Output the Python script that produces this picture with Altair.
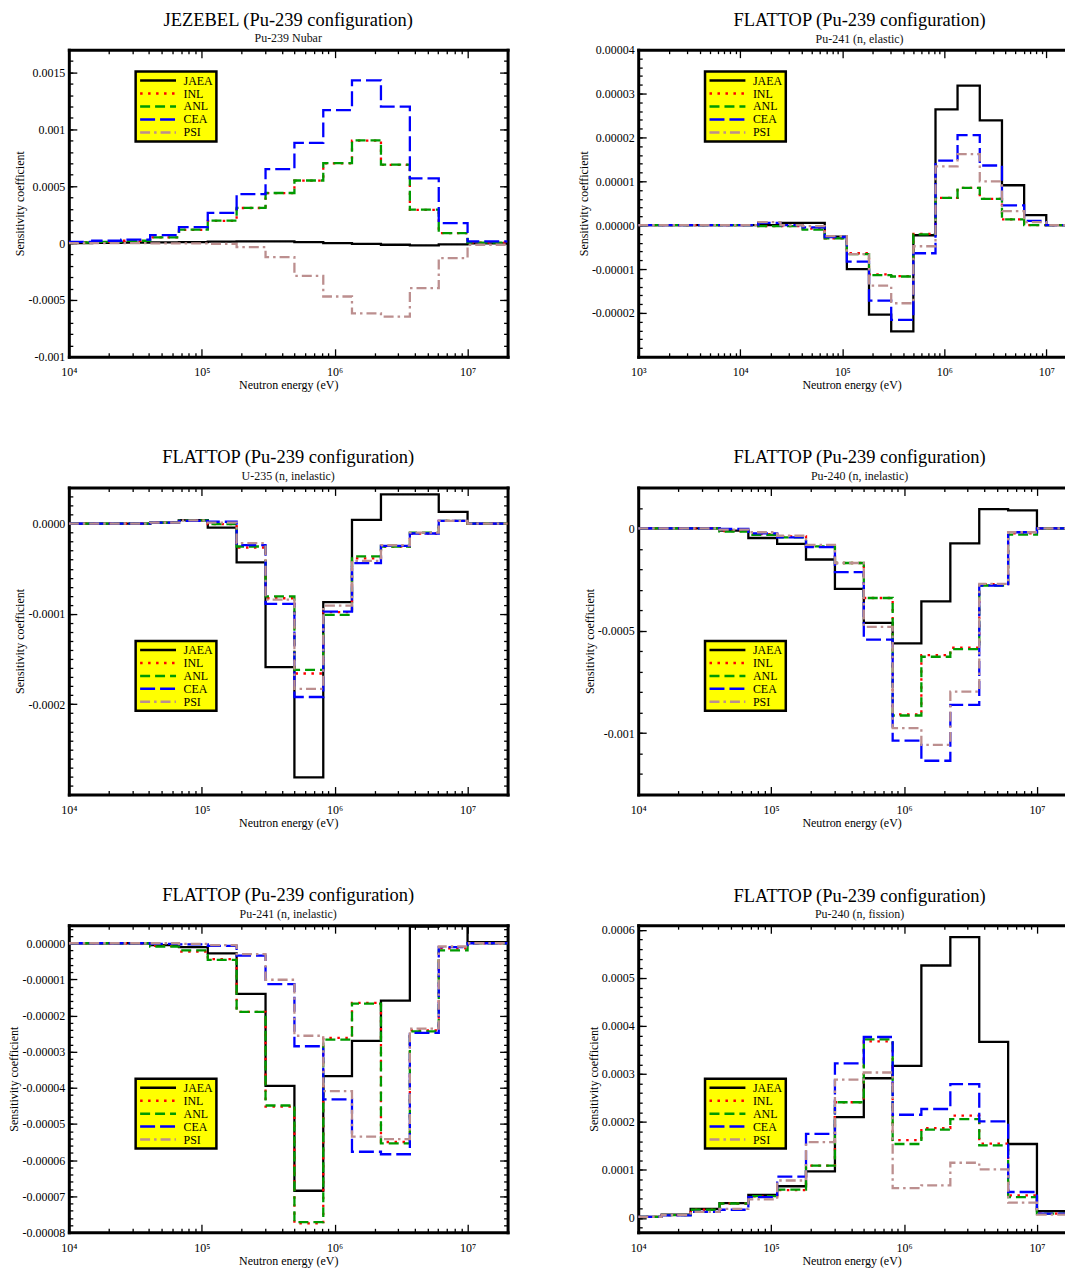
import math
import altair as alt
import pandas as pd

FONT = "Liberation Serif"
SERIES = ["JAEA", "INL", "ANL", "CEA", "PSI"]
COLORS = ["#000000", "#ff0000", "#009a00", "#0000ff", "#bc8f8f"]
DASHES = [[1, 0], [2.5, 5.5], [10, 5], [15, 5], [10, 4, 2.5, 4]]

# energy group boundaries (eV)
EDGES = [1.0e4, 1.50e4, 2.48e4, 4.09e4, 6.74e4, 1.11e5, 1.83e5, 3.02e5, 4.98e5,
         8.21e5, 1.35e6, 2.23e6, 3.68e6, 6.07e6, 1.0e7, 2.0e7]
EDGES_LOW = [1.0e3] + EDGES[1:]

# ---- Panel 1: JEZEBEL, Pu-239 Nubar
P1_JAEA = [0.0, 0.000002, 0.000004, 0.000006, 0.000009, 0.000012, 0.000015, 0.000015, 0.000008, 0.0, -0.000008, -0.000015, -0.00002, -0.000012, -0.000003]
P1_INL = [0.000005, 0.00001, 0.00002, 0.00005, 0.000116, 0.000195, 0.000308, 0.000438, 0.000548, 0.0007, 0.0009, 0.000688, 0.000292, 0.000087, 0.000003]
P1_ANL = [0.000005, 0.00001, 0.00002, 0.00005, 0.000118, 0.000197, 0.00031, 0.00044, 0.00055, 0.000703, 0.000903, 0.00069, 0.000294, 0.000088, 0.000003]
P1_CEA = [0.00001, 0.00002, 0.00003, 0.00007, 0.00014, 0.000265, 0.00043, 0.00065, 0.00088, 0.001168, 0.00143, 0.0012, 0.000568, 0.000176, 0.000015]
P1_PSI = [0.0, -0.000001, -0.000001, -0.000002, -0.000003, -0.000008, -0.000035, -0.000124, -0.000288, -0.00047, -0.000618, -0.000647, -0.000397, -0.000132, -0.000015]

# ---- Panel 2: FLATTOP, Pu-241 (n, elastic)
P2_JAEA = [0.0, 0.0, 0.0000005, 0.0000005, -0.0000026, -0.00001, -0.0000204, -0.0000242, -0.0000023, 0.0000264, 0.0000318, 0.0000239, 0.0000091, 0.0000023, 0.0]
P2_INL = [0.0, -0.0000002, -0.0000002, -0.0000008, -0.000003, -0.0000064, -0.0000112, -0.0000116, -0.000002, 0.0000062, 0.0000085, 0.000006, 0.0000013, 0.0, 0.0]
P2_ANL = [0.0, -0.0000002, -0.0000002, -0.000001, -0.000003, -0.0000066, -0.0000114, -0.0000117, -0.0000021, 0.0000062, 0.0000085, 0.000006, 0.0000013, 0.0, 0.0]
P2_CEA = [0.0, 0.0000005, 0.0, -0.0000005, -0.0000027, -0.0000083, -0.0000172, -0.0000216, -0.0000064, 0.0000147, 0.0000205, 0.0000136, 0.0000045, 0.000001, 0.0]
P2_PSI = [0.0, 0.0000007, 0.0, -0.0000002, -0.0000025, -0.0000066, -0.0000138, -0.0000178, -0.0000048, 0.0000134, 0.0000162, 0.00001, 0.0000032, 0.0000007, 0.0]

# ---- Panel 3: FLATTOP, U-235 (n, inelastic)
P3_JAEA = [0.0, 0.0, 0.0, 0.000001, 0.0000037, -0.0000044, -0.000043, -0.000159, -0.000281, -0.000087, 0.000004, 0.0000324, 0.0000324, 0.0000129, 0.0]
P3_INL = [0.0, 0.0, 0.0, 0.000001, 0.0000035, -0.0000007, -0.0000265, -0.0000827, -0.000166, -0.000098, -0.0000386, -0.0000254, -0.000011, 0.000003, 0.0]
P3_ANL = [0.0, 0.0, 0.0, 0.000001, 0.0000035, -0.0000007, -0.0000254, -0.0000805, -0.000162, -0.000101, -0.0000364, -0.0000254, -0.00001, 0.000003, 0.0]
P3_CEA = [0.0, 0.0, 0.0, 0.000001, 0.000003, 0.000002, -0.0000239, -0.000089, -0.000192, -0.0000974, -0.0000437, -0.0000246, -0.000011, 0.000003, 0.0]
P3_PSI = [0.0, 0.0, 0.0, 0.000001, 0.0000035, 0.000001, -0.0000217, -0.0000842, -0.000183, -0.0000908, -0.0000412, -0.000024, -0.00001, 0.000003, 0.0]

# ---- Panel 4: FLATTOP, Pu-240 (n, inelastic)
P4_JAEA = [0.0, 0.0, 0.0, -0.000011, -0.000047, -0.000076, -0.000152, -0.000295, -0.000462, -0.000562, -0.000357, -0.000073, 0.000094, 0.000088, 0.0]
P4_INL = [0.0, 0.0, 0.0, -0.000013, -0.000028, -0.000039, -0.000088, -0.000169, -0.00034, -0.000908, -0.000619, -0.000583, -0.000272, -0.000024, 0.0]
P4_ANL = [0.0, 0.0, 0.0, -0.000016, -0.000032, -0.000044, -0.000088, -0.000169, -0.00034, -0.000914, -0.000627, -0.00059, -0.000279, -0.000031, 0.0]
P4_CEA = [0.0, 0.0, 0.0, -0.000003, -0.000024, -0.000044, -0.000092, -0.000214, -0.000543, -0.001037, -0.001135, -0.000862, -0.000279, -0.000019, 0.0]
P4_PSI = [0.0, 0.0, 0.0, -0.000006, -0.000019, -0.000036, -0.000081, -0.000169, -0.000481, -0.000976, -0.001057, -0.000797, -0.000271, -0.000019, 0.0]

# ---- Panel 5: FLATTOP, Pu-241 (n, inelastic)
P5_JAEA = [0.0, 0.0, 0.0, -0.0000005, -0.0000011, -0.0000028, -0.000014, -0.0000395, -0.0000685, -0.0000368, -0.000027, -0.0000159, 0.0000046, 0.000008, 0.0000003]
P5_INL = [0.0, 0.0, 0.0, -0.0000007, -0.0000023, -0.0000044, -0.000019, -0.0000452, -0.0000775, -0.0000262, -0.0000165, -0.000055, -0.0000241, -0.0000014, 0.0]
P5_ANL = [0.0, 0.0, 0.0, -0.0000009, -0.000002, -0.0000046, -0.000019, -0.0000449, -0.0000772, -0.0000267, -0.0000167, -0.0000554, -0.0000244, -0.000002, 0.0]
P5_CEA = [0.0, 0.0, 0.0, -0.0000002, -0.0000003, -0.0000007, -0.0000034, -0.0000113, -0.0000285, -0.0000432, -0.0000577, -0.0000584, -0.0000248, -0.0000011, 0.0]
P5_PSI = [0.0, 0.0, 0.0, 0.0, -0.0000002, -0.0000005, -0.000003, -0.0000101, -0.0000256, -0.0000409, -0.0000535, -0.0000542, -0.0000236, -0.0000009, 0.0]

# ---- Panel 6: FLATTOP, Pu-240 (n, fission)
P6_JAEA = [0.000002, 0.000007, 0.000019, 0.000031, 0.000048, 0.000066, 0.000097, 0.00021, 0.000291, 0.000317, 0.000526, 0.000585, 0.000367, 0.000154, 0.000014]
P6_INL = [0.000002, 0.000006, 0.000017, 0.00003, 0.000045, 0.000058, 0.000109, 0.000241, 0.000368, 0.000162, 0.000187, 0.000213, 0.000155, 0.000047, 0.000009]
P6_ANL = [0.000002, 0.000006, 0.000017, 0.00003, 0.0000455, 0.000059, 0.000109, 0.000241, 0.000372, 0.000154, 0.000184, 0.000206, 0.000151, 0.0000435, 0.000009]
P6_CEA = [0.000002, 0.0000055, 0.0000125, 0.000017, 0.0000435, 0.000086, 0.000175, 0.000322, 0.000377, 0.000215, 0.000227, 0.000279, 0.000201, 0.000054, 0.000009]
P6_PSI = [0.000002, 0.000006, 0.0000125, 0.000019, 0.0000385, 0.000078, 0.000158, 0.000288, 0.000303, 0.000062, 0.000068, 0.000115, 0.000101, 0.000032, 0.000007]

TITLES = ["JEZEBEL (Pu-239 configuration)"] + ["FLATTOP (Pu-239 configuration)"] * 5
SUBTITLES = ["Pu-239 Nubar", "Pu-241 (n, elastic)", "U-235 (n, inelastic)",
             "Pu-240 (n, inelastic)", "Pu-241 (n, inelastic)", "Pu-240 (n, fission)"]

FULL_W = 440
RIGHT_W = 428
PLOT_H = 308


def ticks(lo, hi, step):
    n0 = int(round(lo / step))
    n1 = int(round(hi / step))
    return [round(k * step, 12) for k in range(n0, n1 + 1)]


PANELS = [
    dict(values=[P1_JAEA, P1_INL, P1_ANL, P1_CEA, P1_PSI], edges=EDGES, xlo=1e4,
         ydom=[-0.001, 0.0017], ymaj=ticks(-0.001, 0.0015, 0.0005), ymin=ticks(-0.001, 0.0017, 0.0001),
         fmt="~g", leg=(67, 22), right=False, tdy=0),
    dict(values=[P2_JAEA, P2_INL, P2_ANL, P2_CEA, P2_PSI], edges=EDGES_LOW, xlo=1e3,
         ydom=[-0.00003, 0.00004], ymaj=ticks(-0.00002, 0.00004, 0.00001), ymin=ticks(-0.00003, 0.00004, 0.000002),
         fmt=".5f", leg=(67, 22), right=True, tdy=6),
    dict(values=[P3_JAEA, P3_INL, P3_ANL, P3_CEA, P3_PSI], edges=EDGES, xlo=1e4,
         ydom=[-0.0003, 0.00004], ymaj=ticks(-0.0002, 0.0, 0.0001), ymin=ticks(-0.0003, 0.00004, 0.00001),
         fmt=".4f", leg=(67, 154), right=False, tdy=0),
    dict(values=[P4_JAEA, P4_INL, P4_ANL, P4_CEA, P4_PSI], edges=EDGES, xlo=1e4,
         ydom=[-0.0013, 0.0002], ymaj=ticks(-0.001, 0.0, 0.0005), ymin=ticks(-0.0013, 0.0002, 0.0001),
         fmt="~g", leg=(67, 154), right=True, tdy=0),
    dict(values=[P5_JAEA, P5_INL, P5_ANL, P5_CEA, P5_PSI], edges=EDGES, xlo=1e4,
         ydom=[-0.00008, 0.000005], ymaj=ticks(-0.00008, 0.0, 0.00001), ymin=ticks(-0.00008, 0.000004, 0.000002),
         fmt=".5f", leg=(67, 154), right=False, tdy=0),
    dict(values=[P6_JAEA, P6_INL, P6_ANL, P6_CEA, P6_PSI], edges=EDGES, xlo=1e4,
         ydom=[-0.00003, 0.00061], ymaj=ticks(0.0, 0.0006, 0.0001), ymin=ticks(-0.00002, 0.0006, 0.00002),
         fmt="~g", leg=(67, 154), right=True, tdy=1),
]

X_LABEL = ("datum.value < 5e3 ? '10\u00b3' : datum.value < 5e4 ? '10\u2074' : "
           "datum.value < 5e5 ? '10\u2075' : datum.value < 5e6 ? '10\u2076' : '10\u2077'")

BORDER = dict(domain=True, domainColor="#000000", domainWidth=3, domainCap="square",
              grid=False, tickColor="#000000", tickWidth=1.3)


def make_panel(i, p):
    rows = []
    for s, vals in zip(SERIES, p["values"]):
        for e, v in zip(p["edges"][:-1], vals):
            rows.append({"E": e, "S": v, "Lab": s})
        rows.append({"E": p["edges"][-1], "S": vals[-1], "Lab": s})
    df = pd.DataFrame(rows)

    width = RIGHT_W if p["right"] else FULL_W
    full_dec = math.log10(2e7 / p["xlo"])
    xhi = p["xlo"] * 10 ** (full_dec * width / FULL_W)
    xmaj = [10.0 ** k for k in range(3, 8) if p["xlo"] <= 10.0 ** k <= xhi]
    xmin = [m * 10.0 ** k for k in range(3, 8) for m in range(2, 10) if p["xlo"] <= m * 10.0 ** k <= xhi]

    xs = alt.Scale(type="log", domain=[p["xlo"], xhi], nice=False)
    ys = alt.Scale(domain=p["ydom"], nice=False, zero=False)

    ax_bottom = alt.Axis(orient="bottom", values=xmaj, labelExpr=X_LABEL, title="Neutron energy (eV)",
                         tickSize=alt.ExprRef(expr="-8"), labelPadding=18, labelFont=FONT, labelFontSize=12,
                         labelColor="#000000", labelFlush=False, labelOverlap=False,
                         titleFont=FONT, titleFontSize=12, titleFontWeight="normal", titleColor="#000000",
                         titlePadding=2, **BORDER)
    ax_left = alt.Axis(orient="left", values=p["ymaj"],
                       labelExpr="replace(format(datum.value, '" + p["fmt"] + "'), '\u2212', '-')",
                       title="Sensitivity coefficient", tickSize=alt.ExprRef(expr="-8"), labelPadding=12,
                       labelFont=FONT, labelFontSize=12, labelColor="#000000", labelFlush=False,
                       labelOverlap=False, titleFont=FONT, titleFontSize=12, titleFontWeight="normal",
                       titleColor="#000000", titlePadding=1, **BORDER)
    minor = dict(labels=False, title=None, domain=False, grid=False, tickColor="#000000", tickWidth=1.3,
                 tickSize=alt.ExprRef(expr="-4"))
    major_nolab = dict(labels=False, title=None, tickSize=alt.ExprRef(expr="-8"), **BORDER)

    leg = alt.Legend(title=None, orient="none", legendX=p["leg"][0], legendY=p["leg"][1],
                     fillColor="#ffff00", strokeColor="#000000", padding=3, rowPadding=1,
                     symbolType="M-1,0H7", symbolSize=81, symbolStrokeWidth=2.5,
                     labelFont=FONT, labelFontSize=12, labelColor="#000000", labelOffset=33,
                     labelLimit=200)

    base = alt.Chart(df)
    lines = base.mark_line(interpolate="step-after", strokeWidth=2.3, clip=True).encode(
        x=alt.X("E:Q", scale=xs, axis=ax_bottom),
        y=alt.Y("S:Q", scale=ys, axis=ax_left),
        color=alt.Color("Lab:N", scale=alt.Scale(domain=SERIES, range=COLORS), legend=leg),
        strokeDash=alt.StrokeDash("Lab:N", scale=alt.Scale(domain=SERIES, range=DASHES), legend=leg),
    )
    h1 = base.mark_point(opacity=0, clip=True).encode(
        x=alt.X("E:Q", scale=xs, axis=alt.Axis(orient="bottom", values=xmin, **minor)),
        y=alt.Y("S:Q", scale=ys, axis=alt.Axis(orient="left", values=p["ymin"], **minor)),
    )
    if p["right"]:
        y_major_r = None
        y_minor_r = None
    else:
        y_major_r = alt.Axis(orient="right", values=p["ymaj"], **major_nolab)
        y_minor_r = alt.Axis(orient="right", values=p["ymin"], **minor)
    h2 = base.mark_point(opacity=0, clip=True).encode(
        x=alt.X("E:Q", scale=xs, axis=alt.Axis(orient="top", values=xmaj, **major_nolab)),
        y=alt.Y("S:Q", scale=ys, axis=y_major_r),
    )
    h3 = base.mark_point(opacity=0, clip=True).encode(
        x=alt.X("E:Q", scale=xs, axis=alt.Axis(orient="top", values=xmin, **minor)),
        y=alt.Y("S:Q", scale=ys, axis=y_minor_r),
    )
    title = alt.TitleParams(text=TITLES[i], subtitle=SUBTITLES[i], font=FONT, fontSize=18.5,
                            fontWeight="normal", color="#000000", subtitleFont=FONT, subtitleFontSize=12,
                            subtitleColor="#111111", subtitlePadding=4, anchor="middle", frame="group",
                            offset=5, dx=8 if p["right"] else 0, dy=p["tdy"])
    return (alt.layer(lines, h1, h2, h3)
            .resolve_axis(x="independent", y="independent")
            .properties(width=width, height=PLOT_H, title=title))


panels = [make_panel(i, p) for i, p in enumerate(PANELS)]

chart = (alt.concat(*panels, columns=2)
         .properties(spacing={"row": 131, "column": 131}, bounds="flush",
                     padding={"left": 0, "top": 0, "right": 0, "bottom": 0})
         .resolve_scale(color="independent", strokeDash="independent")
         .resolve_legend(color="independent", strokeDash="independent")
         .configure_view(strokeWidth=0)
         .configure_legend(strokeWidth=2.5))

chart.save("out.html", embed_options={"renderer": "svg", "actions": False})
